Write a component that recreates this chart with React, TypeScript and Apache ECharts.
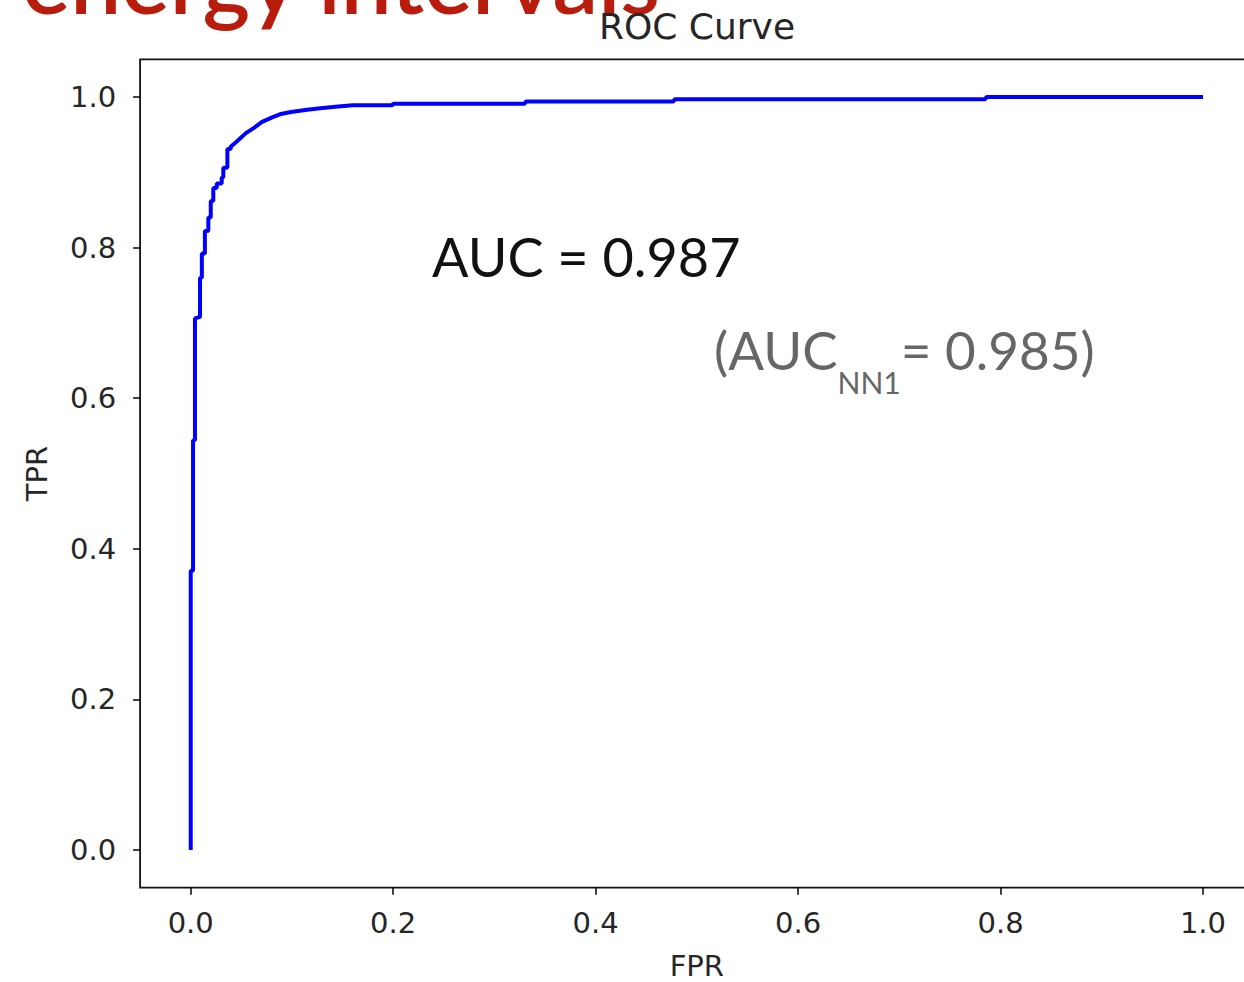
import React, { useEffect, useRef } from "react";
import * as echarts from "echarts";

const fpr = [0, 0, 0.0023, 0.0023, 0.0042, 0.0042, 0.0092, 0.0092, 0.011, 0.011, 0.014, 0.014, 0.0174, 0.0174, 0.0198, 0.0198, 0.0223, 0.0223, 0.0257, 0.0257, 0.0306, 0.0306, 0.0322, 0.0322, 0.0362, 0.0362, 0.0395, 0.0395, 0.0455, 0.0545, 0.0625, 0.0705, 0.0805, 0.088, 0.099, 0.115, 0.128, 0.143, 0.16, 0.199, 0.2, 0.33, 0.331, 0.477, 0.478, 0.785, 0.786, 1.0];
const tpr = [0, 0.371, 0.371, 0.544, 0.544, 0.706, 0.708, 0.76, 0.76, 0.792, 0.792, 0.822, 0.822, 0.84, 0.84, 0.862, 0.862, 0.879, 0.879, 0.885, 0.885, 0.893, 0.893, 0.906, 0.906, 0.931, 0.931, 0.934, 0.941, 0.952, 0.959, 0.967, 0.973, 0.977, 0.98, 0.983, 0.985, 0.987, 0.989, 0.989, 0.991, 0.991, 0.994, 0.994, 0.997, 0.997, 1.0, 1.0];
const xTicks = [0, 0.2, 0.4, 0.6, 0.8, 1.0];
const yTicks = [0, 0.2, 0.4, 0.6, 0.8, 1.0];
const titleText = "ROC Curve";
const slideTitle = "energy intervals";
const aucText = "AUC = 0.987";
const aucNN1Value = "= 0.985)";

export default function App() {
  const ref = useRef<HTMLDivElement>(null);
  useEffect(() => {
    if (!ref.current) return;
    const chart = echarts.init(ref.current, null, { renderer: "svg" });
    const tickFont = { fontFamily: "DejaVu Sans", fontSize: 29, color: "#262626" };
    chart.setOption({
      animation: false,
      backgroundColor: "#fff",
      grid: {
        left: 140.1,
        top: 59.35,
        width: 1113.5,
        height: 828.3,
        containLabel: false,
        outerBoundsMode: "none",
        show: true,
        borderColor: "#111",
        borderWidth: 1.8,
        backgroundColor: "transparent",
      },
      xAxis: {
        type: "value",
        min: -0.05,
        max: 1.05,
        splitLine: { show: false },
        axisLine: { show: false, onZero: false },
        axisTick: {
          show: true,
          customValues: xTicks,
          length: 7,
          lineStyle: { color: "#111", width: 1.6 },
        },
        axisLabel: {
          customValues: xTicks,
          formatter: (v: number) => v.toFixed(1),
          margin: 21,
          ...tickFont,
        },
        name: "FPR",
        nameLocation: "middle",
        nameGap: 64,
        nameTextStyle: { ...tickFont },
      },
      yAxis: {
        type: "value",
        min: -0.05,
        max: 1.05,
        splitLine: { show: false },
        axisLine: { show: false, onZero: false },
        axisTick: {
          show: true,
          customValues: yTicks,
          length: 7,
          lineStyle: { color: "#111", width: 1.6 },
        },
        axisLabel: {
          customValues: yTicks,
          formatter: (v: number) => v.toFixed(1),
          margin: 24,
          padding: [4, 0, 0, 0],
          ...tickFont,
        },
        name: "TPR",
        nameLocation: "middle",
        nameGap: 89,
        nameTextStyle: { ...tickFont },
      },
      series: [
        {
          type: "line",
          data: fpr.map((x, i) => [x, tpr[i]]),
          showSymbol: false,
          symbol: "none",
          lineStyle: { color: "#0000ff", width: 4 },
          clip: true,
        },
      ],
      graphic: [
        {
          type: "text",
          left: 22,
          top: -67,
          style: {
            text: slideTitle,
            fontFamily: "Lato",
            fontWeight: 600,
            fontSize: 91,
            fill: "#b81c0c",
          },
        },
        {
          type: "text",
          x: 697,
          y: 26,
          style: {
            text: titleText,
            fontFamily: "DejaVu Sans",
            fontSize: 36,
            fill: "#262626",
            align: "center",
            verticalAlign: "middle",
          },
        },
        {
          type: "text",
          x: 432,
          y: 256,
          style: {
            text: aucText,
            fontFamily: "Lato",
            fontSize: 54,
            fill: "#111",
            align: "left",
            verticalAlign: "middle",
          },
        },
        {
          type: "text",
          x: 714,
          y: 349,
          style: {
            text: "{a|(AUC}{s|NN1}{a|" + aucNN1Value + "}",
            fill: "#666",
            align: "left",
            verticalAlign: "middle",
            rich: {
              a: { fontFamily: "Lato", fontSize: 53, fill: "#666", lineHeight: 60 },
              s: { fontFamily: "Lato", fontSize: 30, fill: "#666", lineHeight: 30, padding: [66, 0, 0, 0] },
            },
          },
        },
      ],
    });
    return () => chart.dispose();
  }, []);
  return (
    <div style={{ position: "fixed", left: 0, top: 0, width: 1244, height: 982, overflow: "hidden", background: "#fff" }}>
      <div ref={ref} style={{ position: "absolute", left: 0, top: 0, width: 1270, height: 982 }} />
    </div>
  );
}
